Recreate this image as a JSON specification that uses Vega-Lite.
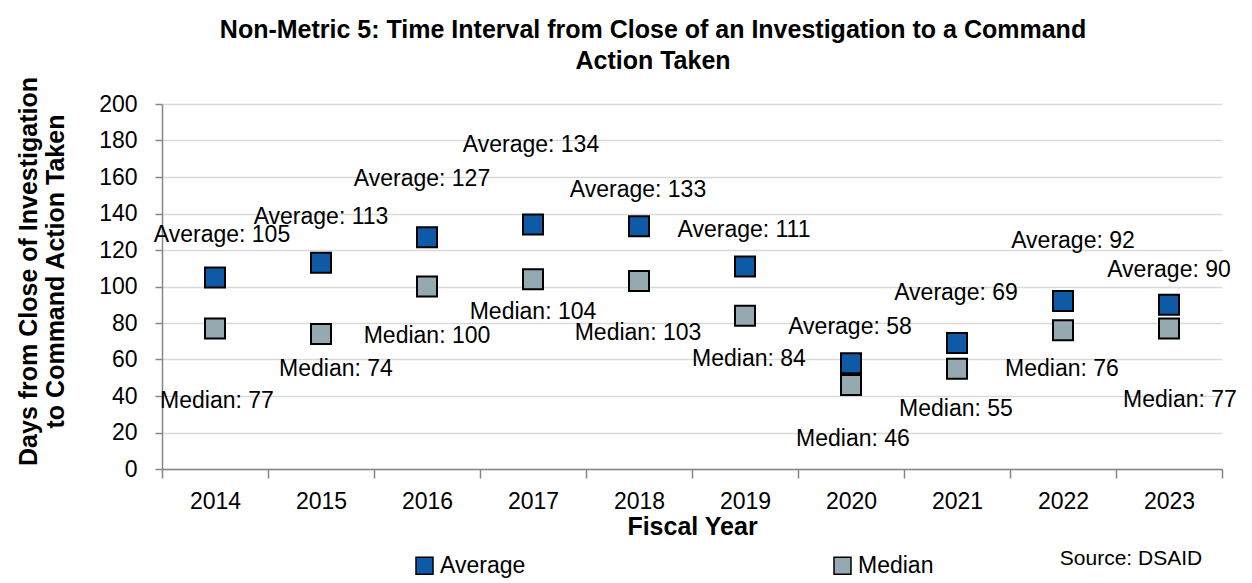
{
  "$schema": "https://vega.github.io/schema/vega-lite/v6.json",
  "width": 1060,
  "height": 365,
  "autosize": {"type": "none"},
  "padding": {"left": 162, "top": 104, "right": 30, "bottom": 114},
  "background": "white",
  "config": {
    "font": "Liberation Sans",
    "view": {"stroke": null},
    "axis": {"labelColor": "black", "titleColor": "black", "labelFont": "Liberation Sans", "titleFont": "Liberation Sans"}
  },
  "title": {
    "text": ["Non-Metric 5: Time Interval from Close of an Investigation to a Command", "Action Taken"],
    "font": "Liberation Sans",
    "fontSize": 25,
    "fontWeight": "bold",
    "color": "black",
    "lineHeight": 31,
    "anchor": "middle",
    "dx": -39,
    "dy": 50,
    "offset": 28,
    "baseline": "bottom"
  },
  "data": {
    "values": [
      {"year": "2014", "series": "Average", "days": 105, "label": "Average: 105"},
      {"year": "2015", "series": "Average", "days": 113, "label": "Average: 113"},
      {"year": "2016", "series": "Average", "days": 127, "label": "Average: 127"},
      {"year": "2017", "series": "Average", "days": 134, "label": "Average: 134"},
      {"year": "2018", "series": "Average", "days": 133, "label": "Average: 133"},
      {"year": "2019", "series": "Average", "days": 111, "label": "Average: 111"},
      {"year": "2020", "series": "Average", "days": 58, "label": "Average: 58"},
      {"year": "2021", "series": "Average", "days": 69, "label": "Average: 69"},
      {"year": "2022", "series": "Average", "days": 92, "label": "Average: 92"},
      {"year": "2023", "series": "Average", "days": 90, "label": "Average: 90"},
      {"year": "2014", "series": "Median", "days": 77, "label": "Median: 77"},
      {"year": "2015", "series": "Median", "days": 74, "label": "Median: 74"},
      {"year": "2016", "series": "Median", "days": 100, "label": "Median: 100"},
      {"year": "2017", "series": "Median", "days": 104, "label": "Median: 104"},
      {"year": "2018", "series": "Median", "days": 103, "label": "Median: 103"},
      {"year": "2019", "series": "Median", "days": 84, "label": "Median: 84"},
      {"year": "2020", "series": "Median", "days": 46, "label": "Median: 46"},
      {"year": "2021", "series": "Median", "days": 55, "label": "Median: 55"},
      {"year": "2022", "series": "Median", "days": 76, "label": "Median: 76"},
      {"year": "2023", "series": "Median", "days": 77, "label": "Median: 77"}
    ]
  },
  "encoding": {
    "x": {
      "field": "year",
      "type": "ordinal",
      "scale": {"paddingInner": 0, "paddingOuter": 0},
      "axis": {
        "title": "Fiscal Year",
        "titleFontSize": 25,
        "titleFontWeight": "bold",
        "titleBaseline": "alphabetic",
        "titleY": 65,
        "labelAngle": 0,
        "labelFontSize": 23,
        "labelPadding": 12,
        "tickBand": "extent",
        "tickSize": 9,
        "tickColor": "#868686",
        "tickWidth": 1.5,
        "domainColor": "#868686",
        "domainWidth": 1.5,
        "grid": false
      }
    },
    "y": {
      "field": "days",
      "type": "quantitative",
      "scale": {"domain": [0, 200], "nice": false, "zero": true},
      "axis": {
        "title": ["Days from Close of Investigation", "to Command Action Taken"],
        "titleFontSize": 25,
        "titleFontWeight": "bold",
        "titleLineHeight": 27,
        "titleBaseline": "bottom",
        "titleAngle": -90,
        "titleAlign": "center",
        "titleX": -121,
        "titleY": 167,
        "values": [0, 20, 40, 60, 80, 100, 120, 140, 160, 180, 200],
        "labelFontSize": 23,
        "labelPadding": 18,
        "tickSize": 7,
        "tickColor": "#868686",
        "tickWidth": 1.5,
        "domainColor": "#868686",
        "domainWidth": 1.5,
        "gridColor": "#d9d9d9",
        "gridWidth": 1.5
      }
    }
  },
  "layer": [
    {
      "mark": {"type": "square", "size": 400, "filled": true, "opacity": 1, "stroke": "black", "strokeWidth": 2},
      "encoding": {
        "color": {
          "field": "series",
          "type": "nominal",
          "scale": {"domain": ["Average", "Median"], "range": ["#0E5AA7", "#95A9B0"]},
          "legend": {
            "title": null,
            "orient": "none",
            "legendX": 251,
            "legendY": 450,
            "direction": "horizontal",
            "columns": 2,
            "columnPadding": 305,
            "padding": 0,
            "symbolType": "square",
            "symbolSize": 289,
            "symbolStrokeColor": "black",
            "symbolStrokeWidth": 1.5,
            "symbolOpacity": 1,
            "labelFontSize": 23,
            "labelColor": "black",
            "labelOffset": 4,
            "labelFont": "Liberation Sans"
          }
        }
      }
    },
    {"transform": [{"filter": "datum.year === '2014' && datum.series === 'Average'"}], "mark": {"type": "text", "fontSize": 23, "color": "black", "dx": 7, "dy": -42}, "encoding": {"text": {"field": "label"}}},
    {"transform": [{"filter": "datum.year === '2015' && datum.series === 'Average'"}], "mark": {"type": "text", "fontSize": 23, "color": "black", "dx": 0, "dy": -46}, "encoding": {"text": {"field": "label"}}},
    {"transform": [{"filter": "datum.year === '2016' && datum.series === 'Average'"}], "mark": {"type": "text", "fontSize": 23, "color": "black", "dx": -5, "dy": -58}, "encoding": {"text": {"field": "label"}}},
    {"transform": [{"filter": "datum.year === '2017' && datum.series === 'Average'"}], "mark": {"type": "text", "fontSize": 23, "color": "black", "dx": -2, "dy": -79}, "encoding": {"text": {"field": "label"}}},
    {"transform": [{"filter": "datum.year === '2018' && datum.series === 'Average'"}], "mark": {"type": "text", "fontSize": 23, "color": "black", "dx": -1, "dy": -36}, "encoding": {"text": {"field": "label"}}},
    {"transform": [{"filter": "datum.year === '2019' && datum.series === 'Average'"}], "mark": {"type": "text", "fontSize": 23, "color": "black", "dx": -1, "dy": -36}, "encoding": {"text": {"field": "label"}}},
    {"transform": [{"filter": "datum.year === '2020' && datum.series === 'Average'"}], "mark": {"type": "text", "fontSize": 23, "color": "black", "dx": -1, "dy": -36}, "encoding": {"text": {"field": "label"}}},
    {"transform": [{"filter": "datum.year === '2021' && datum.series === 'Average'"}], "mark": {"type": "text", "fontSize": 23, "color": "black", "dx": -1, "dy": -50}, "encoding": {"text": {"field": "label"}}},
    {"transform": [{"filter": "datum.year === '2022' && datum.series === 'Average'"}], "mark": {"type": "text", "fontSize": 23, "color": "black", "dx": 10, "dy": -60}, "encoding": {"text": {"field": "label"}}},
    {"transform": [{"filter": "datum.year === '2023' && datum.series === 'Average'"}], "mark": {"type": "text", "fontSize": 23, "color": "black", "dx": 0, "dy": -35}, "encoding": {"text": {"field": "label"}}},
    {"transform": [{"filter": "datum.year === '2014' && datum.series === 'Median'"}], "mark": {"type": "text", "fontSize": 23, "color": "black", "dx": 2, "dy": 73}, "encoding": {"text": {"field": "label"}}},
    {"transform": [{"filter": "datum.year === '2015' && datum.series === 'Median'"}], "mark": {"type": "text", "fontSize": 23, "color": "black", "dx": 15, "dy": 35}, "encoding": {"text": {"field": "label"}}},
    {"transform": [{"filter": "datum.year === '2016' && datum.series === 'Median'"}], "mark": {"type": "text", "fontSize": 23, "color": "black", "dx": 0, "dy": 49}, "encoding": {"text": {"field": "label"}}},
    {"transform": [{"filter": "datum.year === '2017' && datum.series === 'Median'"}], "mark": {"type": "text", "fontSize": 23, "color": "black", "dx": 0, "dy": 33}, "encoding": {"text": {"field": "label"}}},
    {"transform": [{"filter": "datum.year === '2018' && datum.series === 'Median'"}], "mark": {"type": "text", "fontSize": 23, "color": "black", "dx": -1, "dy": 52}, "encoding": {"text": {"field": "label"}}},
    {"transform": [{"filter": "datum.year === '2019' && datum.series === 'Median'"}], "mark": {"type": "text", "fontSize": 23, "color": "black", "dx": 4, "dy": 43}, "encoding": {"text": {"field": "label"}}},
    {"transform": [{"filter": "datum.year === '2020' && datum.series === 'Median'"}], "mark": {"type": "text", "fontSize": 23, "color": "black", "dx": 2, "dy": 54}, "encoding": {"text": {"field": "label"}}},
    {"transform": [{"filter": "datum.year === '2021' && datum.series === 'Median'"}], "mark": {"type": "text", "fontSize": 23, "color": "black", "dx": -1, "dy": 40}, "encoding": {"text": {"field": "label"}}},
    {"transform": [{"filter": "datum.year === '2022' && datum.series === 'Median'"}], "mark": {"type": "text", "fontSize": 23, "color": "black", "dx": -1, "dy": 39}, "encoding": {"text": {"field": "label"}}},
    {"transform": [{"filter": "datum.year === '2023' && datum.series === 'Median'"}], "mark": {"type": "text", "fontSize": 23, "color": "black", "dx": 11, "dy": 72}, "encoding": {"text": {"field": "label"}}},
    {"transform": [{"filter": "datum.year === '2023' && datum.series === 'Median'"}], "mark": {"type": "text", "fontSize": 21, "color": "black", "dx": -38, "dy": 231}, "encoding": {"text": {"value": "Source: DSAID"}}}
  ]
}
